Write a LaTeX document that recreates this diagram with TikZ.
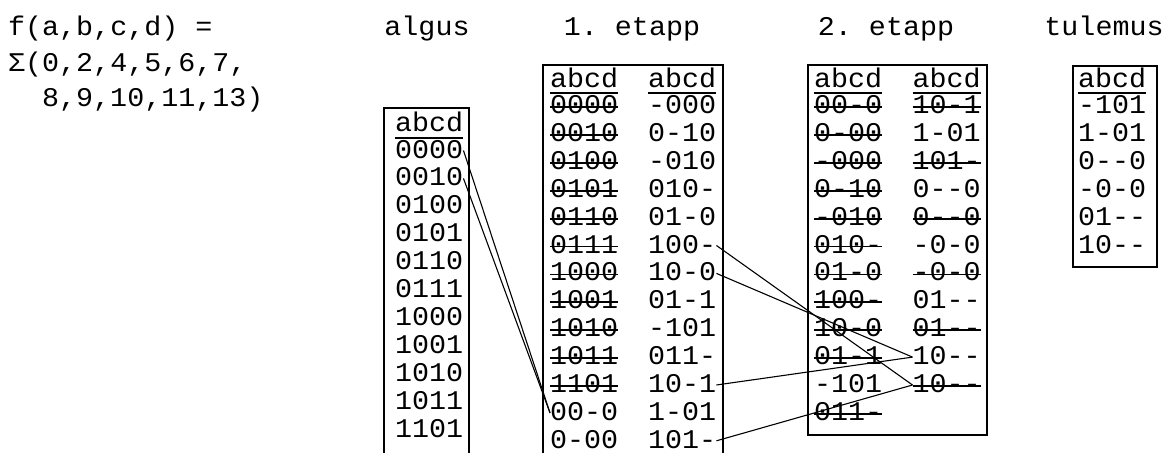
\documentclass[tikz,border=0pt]{standalone}
\usepackage{fontspec}
\setmonofont[FakeStretch=1.05,Ligatures=TeXOff]{Liberation Mono}
\tikzset{
  txt/.style={font=\ttfamily\fontsize{27}{27}\selectfont, inner sep=0pt, anchor=base west, text height=15pt, text depth=0pt},
  ttl/.style={font=\ttfamily\fontsize{27}{27}\selectfont, inner sep=0pt, anchor=base},
  frame/.style={draw, line width=2.2pt},
  rulel/.style={line width=2pt},
  strike/.style={line width=1.8pt},
  link/.style={line width=1.1pt},
}
\begin{document}
\begin{tikzpicture}[x=1pt,y=-1pt]
\useasboundingbox (0,0) rectangle (1174,452);
\clip (0,0) rectangle (1174,452);

% left formula
\node[txt] (f1) at (8,36) {f(a,b,c,d) =};
\node[txt] (f2) at (8,71) {Σ(0,2,4,5,6,7,};
\node[txt] (f3) at (42,106) {8,9,10,11,13)};

% titles
\node[ttl] (t0) at (427,36) {algus};
\node[ttl] (t1) at (632,36) {1. etapp};
\node[ttl] (t2) at (886,36) {2. etapp};
\node[ttl] (t3) at (1104,36) {tulemus};

% frames
\draw[frame] (384,108) rectangle (469,470);
\draw[frame] (543,65) rectangle (723,470);
\draw[frame] (808,65) rectangle (987,435);
\draw[frame] (1073,66) rectangle (1157,267);

% algus
\node[txt] (ah) at (395,131.7) {abcd};
\draw[rulel] ([yshift=-6pt]ah.base west) -- ([yshift=-6pt]ah.base east);
\foreach \t [count=\i from 0] in {0000,0010,0100,0101,0110,0111,1000,1001,1010,1011,1101}
  \node[txt] (a\i) at (395,158+27.9*\i) {\t};

% 1. etapp
\node[txt] (eLh) at (550,87.2) {abcd};
\node[txt] (eRh) at (648,87.2) {abcd};
\draw[rulel] ([yshift=-6pt]eLh.base west) -- ([yshift=-6pt]eLh.base east);
\draw[rulel] ([yshift=-6pt]eRh.base west) -- ([yshift=-6pt]eRh.base east);
\foreach \t [count=\i from 0] in {0000,0010,0100,0101,0110,0111,1000,1001,1010,1011,1101,00-0,0-00}
  \node[txt] (eL\i) at (550,113.5+27.9*\i) {\t};
\foreach \t [count=\i from 0] in {-000,0-10,-010,010-,01-0,100-,10-0,01-1,-101,011-,10-1,1-01,101-}
  \node[txt] (eR\i) at (648,113.5+27.9*\i) {\t};
\foreach \i in {0,...,10}
  \draw[strike] ([yshift=6.5pt]eL\i.base west) -- ([yshift=6.5pt]eL\i.base east);

% 2. etapp
\node[txt] (fLh) at (814,87.2) {abcd};
\node[txt] (fRh) at (912.5,87.2) {abcd};
\draw[rulel] ([yshift=-6pt]fLh.base west) -- ([yshift=-6pt]fLh.base east);
\draw[rulel] ([yshift=-6pt]fRh.base west) -- ([yshift=-6pt]fRh.base east);
\foreach \t [count=\i from 0] in {00-0,0-00,-000,0-10,-010,010-,01-0,100-,10-0,01-1,-101,011-}
  \node[txt] (fL\i) at (814,113.5+27.9*\i) {\t};
\foreach \t [count=\i from 0] in {10-1,1-01,101-,0--0,0--0,-0-0,-0-0,01--,01--,10--,10--}
  \node[txt] (fR\i) at (912.5,113.5+27.9*\i) {\t};
\foreach \i in {0,1,2,3,4,5,6,7,8,9,11}
  \draw[strike] ([yshift=6.5pt]fL\i.base west) -- ([yshift=6.5pt]fL\i.base east);
\foreach \i in {0,2,4,6,8,10}
  \draw[strike] ([yshift=6.5pt]fR\i.base west) -- ([yshift=6.5pt]fR\i.base east);

% tulemus
\node[txt] (rh) at (1078,87.2) {abcd};
\draw[rulel] ([yshift=-6pt]rh.base west) -- ([yshift=-6pt]rh.base east);
\foreach \t [count=\i from 0] in {-101,1-01,0--0,-0-0,01--,10--}
  \node[txt] (r\i) at (1078,113.5+27.9*\i) {\t};

% connectors
\draw[link] (a0.east) -- (eL11.west);
\draw[link] (a1.east) -- (eL11.west);
\draw[link] (eR5.east) -- (fR10.west);
\draw[link] (eR6.east) -- (fR9.west);
\draw[link] (eR10.east) -- (fR9.west);
\draw[link] (eR12.east) -- (fR10.west);
\end{tikzpicture}
\end{document}
